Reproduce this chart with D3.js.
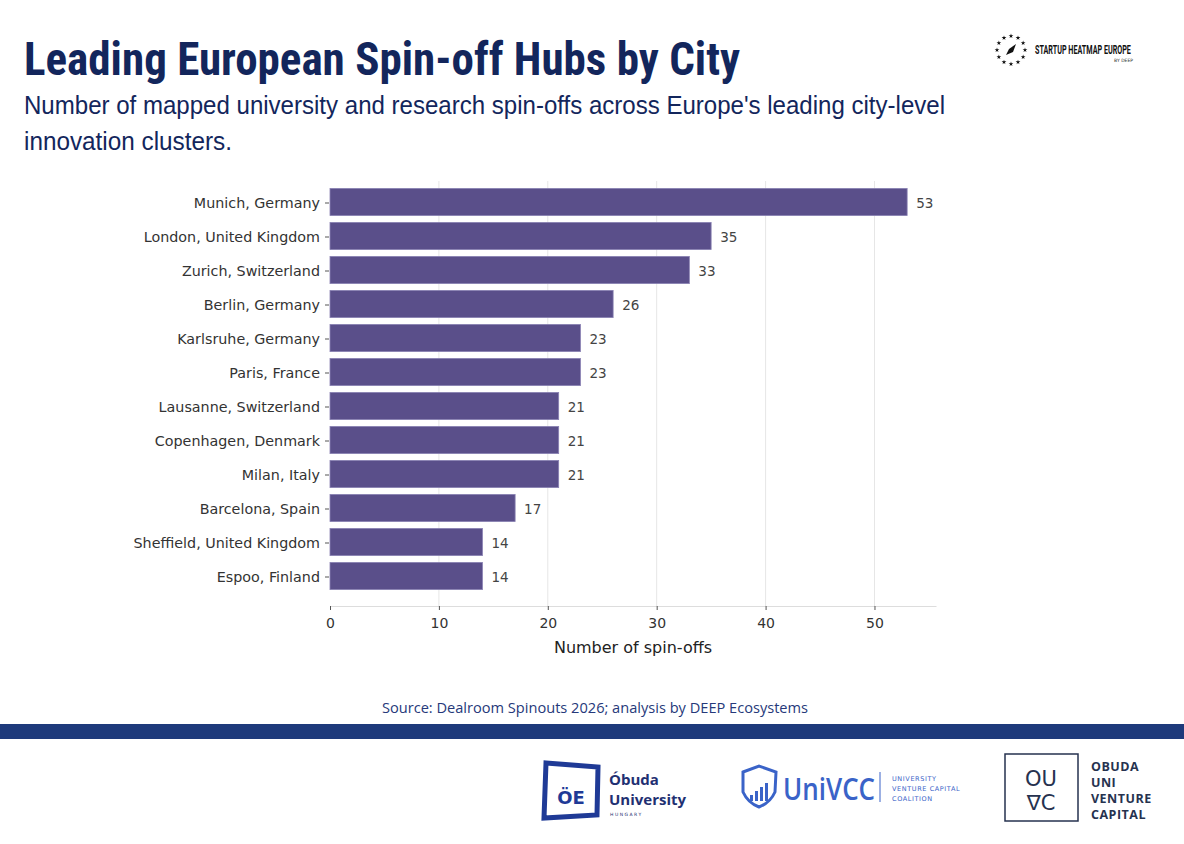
<!DOCTYPE html>
<html>
<head>
<meta charset="utf-8">
<script src="https://cdn.jsdelivr.net/npm/d3@7"></script>
<style>
  html, body { margin: 0; padding: 0; background: #fff; }
  svg { display: block; }
</style>
</head>
<body>
<div id="chart"></div>
<script>
// Data
const cities = [
    "Munich, Germany", "London, United Kingdom", "Zurich, Switzerland", "Berlin, Germany",
    "Karlsruhe, Germany", "Paris, France", "Lausanne, Switzerland", "Copenhagen, Denmark",
    "Milan, Italy", "Barcelona, Spain", "Sheffield, United Kingdom", "Espoo, Finland"
];
const spinoffs = [53, 35, 33, 26, 23, 23, 21, 21, 21, 17, 14, 14];
const xTicks = [0, 10, 20, 30, 40, 50];

const titleText = "Leading European Spin-off Hubs by City";
const subtitleLines = [
    "Number of mapped university and research spin-offs across Europe's leading city-level",
    "innovation clusters."
];
const sourceText = "Source: Dealroom Spinouts 2026; analysis by DEEP Ecosystems";

const W = 1184, H = 844;
const navy = "#13265c";
const barColor = "#5a4f8a";

const svg = d3.select("#chart").append("svg")
    .attr("width", W)
    .attr("height", H);

// Title + subtitle
svg.append("text")
    .attr("x", 24).attr("y", 75)
    .attr("font-family", "'Liberation Sans Narrow', 'Roboto Condensed', sans-serif")
    .attr("font-weight", "bold")
    .attr("font-size", 46)
    .attr("fill", navy)
    .attr("textLength", 716)
    .attr("lengthAdjust", "spacingAndGlyphs")
    .text(titleText);

svg.append("text")
    .attr("x", 24).attr("y", 114)
    .attr("font-family", "'Liberation Sans Narrow', sans-serif")
    .attr("font-size", 26)
    .attr("fill", navy)
    .attr("textLength", 921)
    .attr("lengthAdjust", "spacingAndGlyphs")
    .text(subtitleLines[0]);

svg.append("text")
    .attr("x", 24).attr("y", 150)
    .attr("font-family", "'Liberation Sans Narrow', sans-serif")
    .attr("font-size", 26)
    .attr("fill", navy)
    .attr("textLength", 208)
    .attr("lengthAdjust", "spacingAndGlyphs")
    .text(subtitleLines[1]);

// Chart area
const plot = { left: 330, right: 936, top: 185, bottom: 606 };

const x = d3.scaleLinear()
    .domain([0, d3.max(spinoffs) * 1.05])
    .range([plot.left, plot.right]);

const y = d3.scaleBand()
    .domain(cities)
    .range([plot.top, 593])
    .paddingInner(0.2)
    .paddingOuter(0.1);

const g = svg.append("g");

// Vertical gridlines
g.selectAll(".grid")
    .data(xTicks.filter(d => d > 0))
    .enter()
    .append("line")
    .attr("x1", d => x(d)).attr("x2", d => x(d))
    .attr("y1", plot.top - 4).attr("y2", plot.bottom)
    .attr("stroke", "#e6e6e6")
    .attr("stroke-width", 1);

// Bars
g.selectAll(".bar")
    .data(cities)
    .enter()
    .append("rect")
    .attr("x", x(0))
    .attr("y", d => y(d))
    .attr("width", (d, i) => x(spinoffs[i]) - x(0))
    .attr("height", y.bandwidth())
    .attr("fill", barColor)
    .attr("stroke", "#8a82b3")
    .attr("stroke-width", 0.8);

// Value labels
g.selectAll(".val")
    .data(cities)
    .enter()
    .append("text")
    .attr("x", (d, i) => x(spinoffs[i]) + 9)
    .attr("y", d => y(d) + y.bandwidth() / 2 + 1)
    .attr("dy", "0.35em")
    .attr("font-family", "'DejaVu Sans', sans-serif")
    .attr("font-size", 13.5)
    .attr("fill", "#444")
    .text((d, i) => spinoffs[i]);

// Y axis (no spine, just ticks + labels)
const yAxis = g.append("g")
    .attr("transform", `translate(${plot.left - 1},1)`)
    .call(d3.axisLeft(y).tickSize(4).tickPadding(5));
yAxis.select(".domain").remove();
yAxis.selectAll("line").attr("stroke", "#555");
yAxis.selectAll("text")
    .attr("font-family", "'DejaVu Sans', sans-serif")
    .attr("font-size", 14.3)
    .attr("fill", "#333");

// X axis
const xAxis = g.append("g")
    .attr("transform", `translate(0,${plot.bottom})`)
    .call(d3.axisBottom(x).tickValues(xTicks).tickSize(4).tickPadding(8).tickSizeOuter(0));
xAxis.select(".domain").attr("stroke", "#ddd").attr("stroke-width", 1.2);
xAxis.selectAll(".tick line").attr("stroke", "#555");
xAxis.selectAll("text")
    .attr("font-family", "'DejaVu Sans', sans-serif")
    .attr("font-size", 14)
    .attr("fill", "#333");

svg.append("text")
    .attr("x", (plot.left + plot.right) / 2)
    .attr("y", 653)
    .attr("text-anchor", "middle")
    .attr("font-family", "'DejaVu Sans', sans-serif")
    .attr("font-size", 16)
    .attr("fill", "#222")
    .text("Number of spin-offs");

// Source line
svg.append("text")
    .attr("x", 595).attr("y", 713)
    .attr("text-anchor", "middle")
    .attr("font-family", "'Open Sans', sans-serif")
    .attr("font-size", 14.6)
    .attr("fill", "#26397a")
    .text(sourceText);

// Footer band
svg.append("rect")
    .attr("x", 0).attr("y", 724)
    .attr("width", W).attr("height", 15)
    .attr("fill", "#1e3a7b");

// Top-right logo: ring of stars with a rocket
const logo = svg.append("g").attr("transform", "translate(1011,50)");
d3.range(12).forEach(i => {
    const a = i / 12 * 2 * Math.PI;
    logo.append("path")
        .attr("d", d3.symbol(d3.symbolStar, 7)())
        .attr("transform", `translate(${14 * Math.cos(a)},${14 * Math.sin(a)})`)
        .attr("fill", "#111");
});
logo.append("path")
    .attr("d", "M-5,5 L-2,-1 L5,-6 L2,2 Z")
    .attr("fill", "#111");
// logo wordmark squeezed horizontally so its real box stays narrow
svg.append("g")
    .attr("transform", "translate(1035,54) scale(0.6,1)")
    .append("text")
    .attr("font-family", "'Roboto', sans-serif")
    .attr("font-weight", "bold")
    .attr("font-size", 12)
    .attr("fill", "#111")
    .text("STARTUP HEATMAP EUROPE");
svg.append("text")
    .attr("x", 1133).attr("y", 62)
    .attr("text-anchor", "end")
    .attr("font-family", "'DejaVu Sans', sans-serif")
    .attr("font-size", 4.5)
    .attr("fill", "#333")
    .text("BY DEEP");

// Óbuda University logo
const ob = svg.append("g");
ob.append("path")
    .attr("d", "M546,763 L598,767 L597,815 L544,818 Z")
    .attr("fill", "none")
    .attr("stroke", "#1f3a96")
    .attr("stroke-width", 5);
ob.append("text")
    .attr("x", 571).attr("y", 804)
    .attr("text-anchor", "middle")
    .attr("font-family", "'DejaVu Sans', sans-serif")
    .attr("font-weight", "bold")
    .attr("font-size", 18)
    .attr("fill", "#1f3a96")
    .text("ÖE");
ob.append("text")
    .attr("x", 609).attr("y", 785)
    .attr("font-family", "'Open Sans', sans-serif")
    .attr("font-weight", "bold")
    .attr("font-size", 15)
    .attr("fill", "#1f3072")
    .text("Óbuda");
ob.append("text")
    .attr("x", 609).attr("y", 805)
    .attr("font-family", "'Open Sans', sans-serif")
    .attr("font-weight", "bold")
    .attr("font-size", 15)
    .attr("fill", "#1f3072")
    .text("University");
ob.append("text")
    .attr("x", 610).attr("y", 816)
    .attr("font-family", "'DejaVu Sans', sans-serif")
    .attr("font-size", 4.5)
    .attr("letter-spacing", 1.5)
    .attr("fill", "#1f3072")
    .text("HUNGARY");

// UniVCC logo
const uv = svg.append("g");
uv.append("path")
    .attr("d", "M743,772 L759,766 L776,772 L775,792 Q770,803 759,807 Q748,803 743,792 Z")
    .attr("fill", "none")
    .attr("stroke", "#3a63c8")
    .attr("stroke-width", 3);
[0, 1, 2, 3].forEach(i => {
    uv.append("rect")
        .attr("x", 750 + i * 5).attr("y", 795 - i * 4)
        .attr("width", 3).attr("height", 6 + i * 4)
        .attr("fill", "#3a63c8");
});
uv.append("text")
    .attr("x", 783).attr("y", 800)
    .attr("font-family", "'Open Sans', sans-serif")
    .attr("font-weight", 600)
    .attr("font-size", 30)
    .attr("fill", "#3a63c8")
    .attr("textLength", 92)
    .attr("lengthAdjust", "spacingAndGlyphs")
    .text("UniVCC");
uv.append("line")
    .attr("x1", 880).attr("x2", 880)
    .attr("y1", 772).attr("y2", 802)
    .attr("stroke", "#3a63c8");
["UNIVERSITY", "VENTURE CAPITAL", "COALITION"].forEach((t, i) => {
    uv.append("text")
        .attr("x", 892).attr("y", 781 + i * 10)
        .attr("font-family", "'DejaVu Sans', sans-serif")
        .attr("font-size", 6.5)
        .attr("letter-spacing", 0.6)
        .attr("fill", "#3a63c8")
        .text(t);
});

// Obuda Uni Venture Capital logo
const ov = svg.append("g");
ov.append("rect")
    .attr("x", 1005).attr("y", 754)
    .attr("width", 73).attr("height", 67)
    .attr("fill", "none")
    .attr("stroke", "#26324f")
    .attr("stroke-width", 1.5);
ov.append("text")
    .attr("x", 1041).attr("y", 786)
    .attr("text-anchor", "middle")
    .attr("font-family", "'DejaVu Sans', sans-serif")
    .attr("font-size", 21)
    .attr("fill", "#26324f")
    .text("OU");
ov.append("text")
    .attr("x", 1041).attr("y", 810)
    .attr("text-anchor", "middle")
    .attr("font-family", "'DejaVu Sans', sans-serif")
    .attr("font-size", 21)
    .attr("fill", "#26324f")
    .text("∇C");
["OBUDA", "UNI", "VENTURE", "CAPITAL"].forEach((t, i) => {
    ov.append("text")
        .attr("x", 1091).attr("y", 771 + i * 16)
        .attr("font-family", "'Open Sans', sans-serif")
        .attr("font-weight", "bold")
        .attr("font-size", 12.5)
        .attr("letter-spacing", 0.5)
        .attr("fill", "#26324f")
        .text(t);
});
</script>
</body>
</html>
